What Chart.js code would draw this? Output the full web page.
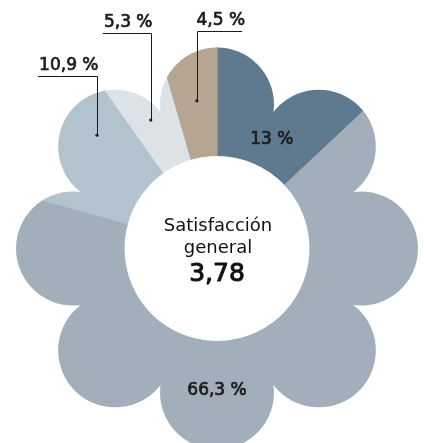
<!DOCTYPE html>
<html>
<head>
<meta charset="utf-8">
<script src="https://cdn.jsdelivr.net/npm/chart.js@4/dist/chart.umd.min.js"></script>
<style>
  html, body { margin: 0; padding: 0; background: #ffffff; }
  #wrap { position: relative; width: 424px; height: 443px; }
</style>
</head>
<body>
<div id="wrap"><canvas id="c"></canvas></div>
<script>
// ---- data ----
const categories = ['13 %', '66,3 %', '10,9 %', '5,3 %', '4,5 %'];
const values = [13, 66.3, 10.9, 5.3, 4.5];
const sliceColors = ['#5f7a8f', '#a3aebb', '#b2c3cd', '#dde2e6', '#b6a593'];
const centerTitle = ['Satisfacción', 'general'];
const centerValue = '3,78';

// ---- label layout (fraction along slice, radius, leader settings) ----
const labelLayout = [
  { type: 'in', frac: 0.566, r: 123 },
  { type: 'in', frac: 0.558, r: 140 },
  { type: 'out', frac: 0.71, r: 165, lineY: 76, side: 'left' },
  { type: 'out', frac: 0.42, r: 144.5, lineY: 33, side: 'left' },
  { type: 'out', frac: 0.52, r: 149, lineY: 31, side: 'right' }
];

const PETALS = 8, PETAL_DIST = 144, PETAL_R = 57, CORE_R = 130;

function heavyText(ctx, txt, x, y, sw) {
  ctx.lineWidth = sw;
  ctx.lineJoin = 'round';
  ctx.strokeText(txt, x, y);
  ctx.fillText(txt, x, y);
}

const flowerPlugin = {
  id: 'flower',
  beforeDatasetsDraw(chart) {
    const arc = chart.getDatasetMeta(0).data[0];
    const cx = arc.x, cy = arc.y;
    const ctx = chart.ctx;
    ctx.save();
    ctx.beginPath();
    for (let k = 0; k < PETALS; k++) {
      const a = -Math.PI / 2 + k * 2 * Math.PI / PETALS;
      const px = cx + PETAL_DIST * Math.cos(a), py = cy + PETAL_DIST * Math.sin(a);
      ctx.moveTo(px + PETAL_R, py);
      ctx.arc(px, py, PETAL_R, 0, Math.PI * 2);
    }
    ctx.moveTo(cx + CORE_R, cy);
    ctx.arc(cx, cy, CORE_R, 0, Math.PI * 2);
    ctx.clip();
  },
  afterDatasetsDraw(chart) {
    const ctx = chart.ctx;
    ctx.restore();
    const meta = chart.getDatasetMeta(0);
    const cx = meta.data[0].x, cy = meta.data[0].y;
    ctx.save();
    ctx.font = '17px "DejaVu Sans"';
    ctx.fillStyle = '#1b1b1b';
    ctx.strokeStyle = '#1b1b1b';
    ctx.textBaseline = 'alphabetic';
    meta.data.forEach((el, i) => {
      const L = labelLayout[i];
      const a = el.startAngle + (el.endAngle - el.startAngle) * L.frac;
      const x = cx + L.r * Math.cos(a), y = cy + L.r * Math.sin(a);
      const txt = categories[i];
      const w = ctx.measureText(txt).width;
      if (L.type === 'in') {
        ctx.textAlign = 'center';
        heavyText(ctx, txt, x, y + 6, 0.7);
      } else {
        const xr = Math.round(x) + 0.5;
        ctx.beginPath();
        ctx.arc(x, y, 1.6, 0, Math.PI * 2);
        ctx.fill();
        ctx.lineWidth = 1;
        ctx.beginPath();
        ctx.moveTo(xr, y);
        ctx.lineTo(xr, L.lineY + 0.5);
        if (L.side === 'left') {
          ctx.lineTo(xr - w, L.lineY + 0.5);
          ctx.stroke();
          ctx.textAlign = 'right';
          heavyText(ctx, txt, xr + 1, L.lineY - 6, 0.7);
        } else {
          ctx.lineTo(xr + w - 4, L.lineY + 0.5);
          ctx.stroke();
          ctx.textAlign = 'left';
          heavyText(ctx, txt, xr - 1, L.lineY - 6, 0.7);
        }
      }
    });
    // center text
    ctx.textAlign = 'center';
    ctx.fillStyle = '#111111';
    ctx.strokeStyle = '#111111';
    ctx.font = '18px "DejaVu Sans"';
    ctx.fillText(centerTitle[0], cx + 1, 231);
    ctx.fillText(centerTitle[1], cx + 1, 253);
    ctx.font = '25px "DejaVu Sans"';
    heavyText(ctx, centerValue, cx, 281, 1);
    ctx.restore();
  }
};

new Chart(document.getElementById('c'), {
  type: 'doughnut',
  data: {
    labels: categories,
    datasets: [{
      data: values,
      backgroundColor: sliceColors,
      borderColor: sliceColors,
      borderWidth: 1,
      hoverOffset: 0,
      clip: false
    }]
  },
  options: {
    responsive: true,
    maintainAspectRatio: false,
    animation: false,
    radius: 205,
    cutout: 88,
    layout: { padding: { left: 10, right: 0, top: 54, bottom: 0 } },
    plugins: { legend: { display: false }, tooltip: { enabled: false } },
    events: []
  },
  plugins: [flowerPlugin]
});
</script>
</body>
</html>
